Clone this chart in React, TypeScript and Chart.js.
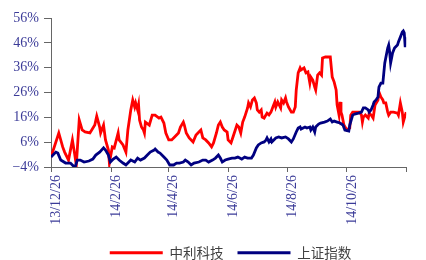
import React, { useEffect, useRef } from "react";
import { Chart, registerables } from "chart.js";

Chart.register(...registerables);

// Day offsets from 2013-12-26 and cumulative returns (%)
const redDays = [0,8,12,14,18,22,24,26,29,32,35,40,45,47,50,51,54,56,59,60,63,65,69,70,74,77,79,82,84,86,87,89,90,91,93,95,96,97,101,104,107,111,113,116,118,121,124,127,131,133,136,137,139,142,146,149,152,154,156,159,162,165,167,170,172,174,176,178,181,182,185,187,191,193,195,197,199,202,203,205,207,209,211,212,214,216,217,219,222,224,226,228,230,231,233,236,237,239,241,242,244,247,249,251,252,254,256,257,260,262,264,266,267,269,271,272,274,276,278,279,282,287,289,291,293,294,296,297,298,299,301,304,307,308,310,312,317,319,320,321,323,326,327,329,331,333,336,337,339,341,342,344,346,347,349,352,356,357,359,361,362,364,365];
const redValues = [0,9.7,4.1,2.0,-1.2,6.9,2.0,-3.2,14.9,10.9,10.1,9.7,12.9,16.5,12.1,9.7,12.9,6.9,2.8,-2.4,4.1,3.7,9.7,6.9,4.9,2.0,10.9,19.0,23.0,20.2,21.8,19.0,21.0,14.9,12.1,10.9,9.7,14.1,12.9,16.9,16.9,15.7,16.1,13.7,9.7,6.9,6.9,8.1,9.7,12.1,14.1,12.9,9.7,7.7,6.1,8.9,10.1,10.9,7.7,6.9,5.7,4.1,5.7,9.7,12.9,14.1,12.1,10.9,10.1,6.9,5.7,8.1,12.9,12.1,9.7,14.1,16.1,19.8,21.8,20.2,23.0,23.8,21.8,19.0,18.1,19.0,16.1,15.7,17.7,17.0,18.1,20.2,22.2,20.2,22.2,19.8,23.0,21.8,23.8,22.2,20.2,18.1,18.1,20.2,27.0,33.9,35.9,35.1,35.9,33.9,34.3,29.8,32.2,31.0,28.2,27.0,33.0,33.9,33.0,39.9,40.3,40.3,32.2,30.2,27.0,21.0,16.9,22.2,18.1,16.9,12.9,10.9,11.7,16.9,18.1,18.1,18.1,16.9,14.1,16.1,16.9,15.7,17.7,16.9,15.7,21.0,23.0,26.2,24.2,23.0,21.8,21.8,18.1,16.9,18.1,18.1,17.7,16.9,21.8,18.1,14.1,16.9,18.1];

const navyDays = [0,5,7,10,15,20,23,25,27,30,34,39,43,46,50,54,56,59,61,64,67,70,74,77,80,82,86,89,92,96,99,102,106,107,110,112,116,119,122,126,129,132,136,138,141,144,147,152,156,159,162,166,169,172,174,176,179,182,186,189,192,196,199,202,206,208,211,213,216,219,221,222,224,226,227,231,234,237,241,244,247,249,252,254,256,257,261,263,266,267,269,271,272,275,277,281,284,287,289,291,294,297,300,302,306,307,310,312,316,319,321,323,326,327,329,331,332,334,336,337,339,341,342,343,345,346,347,348,349,351,353,356,357,359,361,362,363,364,365];
const navyValues = [0,2.0,1.6,-1.2,-2.4,-2.4,-3.6,-3.8,-1.2,-1.2,-2.0,-1.6,-0.8,0.8,2.0,3.7,2.8,0.8,-2.0,-0.8,0.0,-1.2,-2.4,-3.2,-2.0,-1.2,-2.0,-0.4,-1.2,-0.4,0.8,2.0,2.8,3.2,2.0,1.6,0.0,-1.2,-3.2,-3.2,-2.4,-2.4,-2.0,-1.2,-2.0,-3.2,-2.4,-2.0,-1.2,-1.2,-2.0,-1.2,-0.4,0.8,-0.4,-2.0,-1.2,-0.8,-0.4,-0.4,0.0,-0.8,0.0,-0.4,-0.4,0.8,3.7,4.9,5.7,6.1,6.9,7.7,6.1,7.3,6.1,7.7,8.1,7.7,8.1,7.3,6.1,7.3,10.1,11.7,12.1,11.3,12.1,11.7,12.1,10.9,12.1,10.1,12.1,13.3,13.7,14.1,14.5,15.3,14.1,14.5,14.1,13.7,12.9,10.9,10.5,12.9,16.9,17.3,17.7,18.1,19.8,19.8,19.0,18.1,19.0,21.0,22.2,23.0,24.2,28.2,29.8,29.8,33.9,37.9,41.9,43.9,45.1,42.3,37.9,41.9,43.9,45.1,46.3,48.3,50.4,50.8,50.0,44.3,48.3];

const tickDays = [0, 62, 121, 182, 243, 304, 365];
const tickLabels = ["13/12/26", "14/2/26", "14/4/26", "14/6/26", "14/8/26", "14/10/26", ""];
const yTicks = [-4, 6, 16, 26, 36, 46, 56];

const seriesNames = ["中利科技", "上证指数"];
const seriesColors = ["#ff0000", "#000080"];

const legendShift = {
  id: "legendShift",
  afterLayout(chart: any) {
    const lg = chart.legend;
    if (lg) {
      lg.left += 22;
      lg.right += 22;
    }
  },
};

export default function App() {
  const ref = useRef<HTMLCanvasElement>(null);
  useEffect(() => {
    if (!ref.current) return;
    const toPts = (d: number[], v: number[]) => d.map((x, i) => ({ x, y: v[i] }));
    const labelColor = "#3b3b98";
    const axisColor = "#666666";
    const chart = new Chart(ref.current, {
      type: "line",
      plugins: [legendShift],
      data: {
        datasets: [
          {
            label: seriesNames[1],
            data: toPts(navyDays, navyValues),
            borderColor: seriesColors[1],
            backgroundColor: seriesColors[1],
            borderWidth: 2.8,
            pointRadius: 0,
            tension: 0,
          },
          {
            label: seriesNames[0],
            data: toPts(redDays, redValues),
            borderColor: seriesColors[0],
            backgroundColor: seriesColors[0],
            borderWidth: 2.8,
            pointRadius: 0,
            tension: 0,
          },
        ],
      },
      options: {
        animation: false,
        responsive: false,
        layout: { padding: { left: 0, right: 9, top: 18, bottom: 0 } },
        plugins: {
          tooltip: { enabled: false },
          legend: {
            position: "bottom",
            maxHeight: 28,
            labels: {
              boxWidth: 53,
              boxHeight: 3,
              padding: 14,
              color: "#404040",
              font: { family: "'Noto Sans CJK SC'", size: 13.5 },
              sort: (a: any, b: any) => b.datasetIndex - a.datasetIndex,
              generateLabels: (chart: any) =>
                chart.data.datasets.map((ds: any, i: number) => ({
                  text: ds.label,
                  fillStyle: ds.borderColor,
                  strokeStyle: ds.borderColor,
                  lineWidth: 0,
                  hidden: false,
                  datasetIndex: i,
                  fontColor: "#404040",
                })),
            },
          },
        },
        scales: {
          x: {
            type: "linear",
            min: 0,
            max: 365,
            afterBuildTicks: (axis: any) => {
              axis.ticks = tickDays.map((v) => ({ value: v }));
            },
            afterFit: (scale: any) => {
              scale.height = 65;
            },
            ticks: {
              autoSkip: false,
              minRotation: 90,
              maxRotation: 90,
              padding: 3,
              labelOffset: 5,
              color: labelColor,
              font: { family: "'Liberation Serif'", size: 14 },
              callback: (value: any) => {
                const i = tickDays.indexOf(Number(value));
                return i >= 0 ? tickLabels[i] : "";
              },
            },
            grid: {
              display: true,
              drawOnChartArea: false,
              drawTicks: true,
              tickLength: 5,
              color: axisColor,
            },
            border: { display: true, color: axisColor, width: 1 },
          },
          y: {
            min: -4,
            max: 56,
            afterBuildTicks: (axis: any) => {
              axis.ticks = yTicks.map((v) => ({ value: v }));
            },
            afterFit: (scale: any) => {
              scale.width = 51;
            },
            ticks: {
              padding: 5,
              color: labelColor,
              font: { family: "'Liberation Serif'", size: 14 },
              callback: (value: any) => {
                const n = Number(value);
                return (n < 0 ? "\u2212" + Math.abs(n) : String(n)) + "%";
              },
            },
            grid: {
              display: true,
              drawOnChartArea: false,
              drawTicks: true,
              tickLength: 7,
              color: axisColor,
            },
            border: { display: true, color: axisColor, width: 1 },
          },
        },
      },
    });
    return () => chart.destroy();
  }, []);
  return (
    <div style={{ position: "fixed", left: 0, top: 0, width: 426, height: 260, background: "#fff" }}>
      <canvas ref={ref} width={426} height={260} style={{ width: 426, height: 260 }} />
    </div>
  );
}
